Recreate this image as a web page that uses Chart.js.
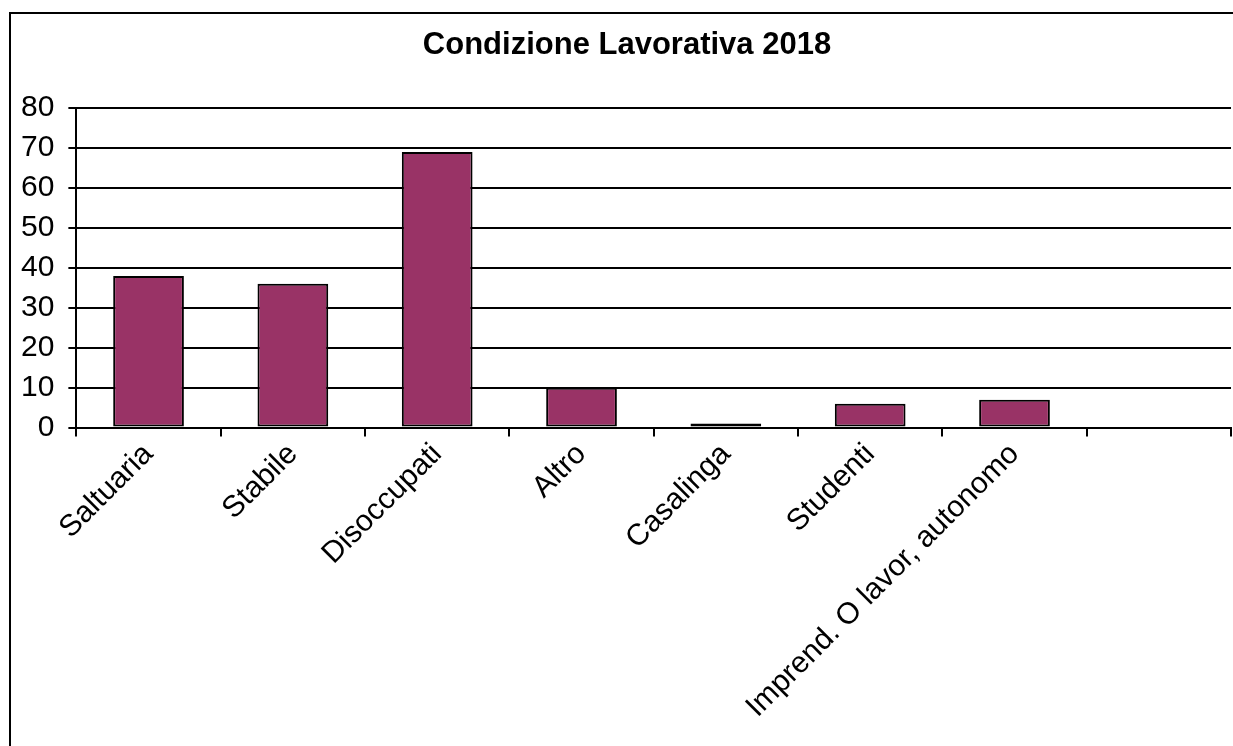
<!DOCTYPE html>
<html>
<head>
<meta charset="utf-8">
<script src="https://cdn.jsdelivr.net/npm/chart.js@4"></script>
<style>
  body { margin: 0; background: #fff; }
  #frame { position: absolute; left: 9px; top: 12px; width: 1400px; height: 900px;
           border-left: 2px solid #000; border-top: 2px solid #000; }
  #wrap { position: absolute; left: 0; top: 0; width: 1233px; height: 746px; }
</style>
</head>
<body>
<div id="frame"></div>
<div id="wrap"><canvas id="chart" width="1233" height="746"></canvas></div>
<script>
// ------------------ Data ------------------
const categories = ["Saltuaria", "Stabile", "Disoccupati", "Altro", "Casalinga", "Studenti", "Imprend. O lavor, autonomo", ""];
const values = [38, 36, 69, 10, 1, 6, 7, null];
const yTicks = [0, 10, 20, 30, 40, 50, 60, 70, 80];

const font = "'Liberation Sans', Arial, sans-serif";

// nudge the title so it sits centred on the whole frame, not just the plot box
const shiftTitle = {
  id: 'shiftTitle',
  afterLayout(chart) {
    const t = chart.titleBlock;
    if (t) { t.left += 8; t.right += 8; }
  }
};

const ctx = document.getElementById("chart").getContext("2d");
new Chart(ctx, {
  type: 'bar',
  data: {
    labels: categories,
    datasets: [{
      data: values,
      backgroundColor: '#993366',
      borderColor: '#000',
      borderWidth: 2,
      borderSkipped: false,
      categoryPercentage: 1,
      barPercentage: 0.49
    }]
  },
  options: {
    responsive: false,
    animation: false,
    layout: { padding: { left: 7, right: 2, top: 0, bottom: 21 } },
    plugins: {
      legend: { display: false },
      tooltip: { enabled: false },
      title: {
        display: true,
        text: 'Condizione Lavorativa 2018',
        color: '#000',
        font: { family: font, size: 31, weight: 'bold' },
        padding: { top: 27, bottom: 44 }
      }
    },
    scales: {
      x: {
        offset: true,
        grid: { offset: true, drawOnChartArea: false, color: '#000', lineWidth: 2, tickLength: 9 },
        border: { color: '#000', width: 2 },
        ticks: {
          color: '#000',
          font: { family: font, size: 30 },
          minRotation: 45,
          maxRotation: 45,
          autoSkip: false,
          padding: 0
        }
      },
      y: {
        min: 0,
        max: 80,
        afterBuildTicks: axis => { axis.ticks = yTicks.map(v => ({ value: v })); },
        grid: { color: '#000', lineWidth: 2, tickLength: 8 },
        border: { color: '#000', width: 2 },
        ticks: {
          color: '#000',
          font: { family: font, size: 30 },
          padding: 14
        }
      }
    }
  },
  plugins: [shiftTitle]
});
</script>
</body>
</html>
